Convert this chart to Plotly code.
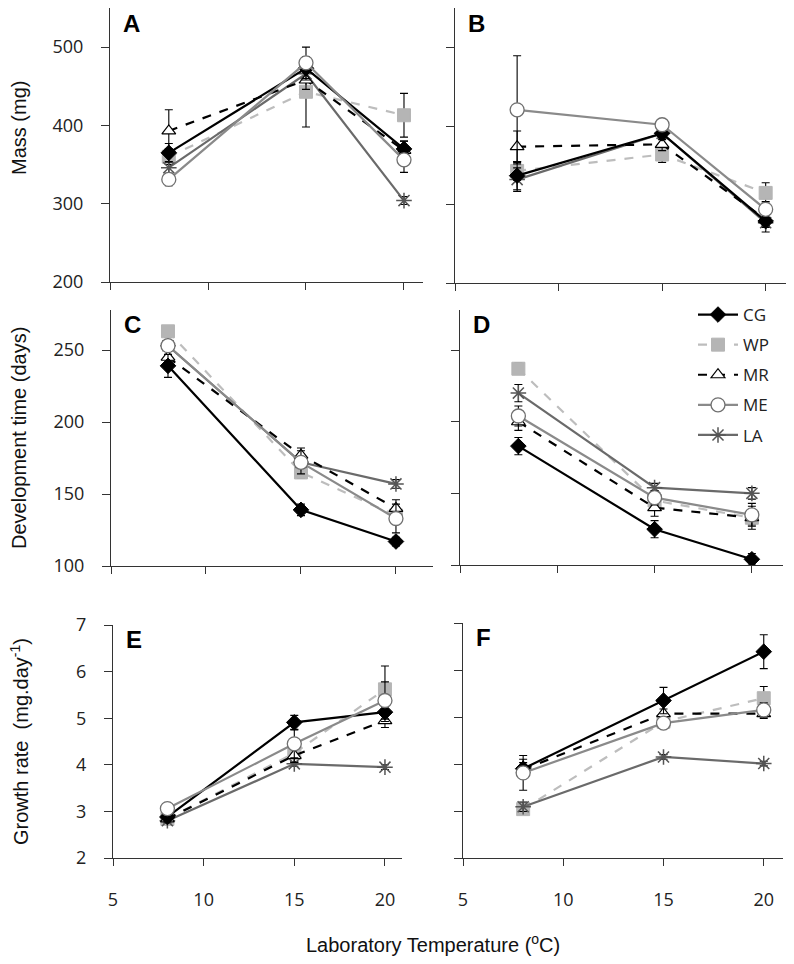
import plotly.graph_objects as go

# ---------------- data ----------------
temps = [8, 15, 20]
series = ["CG", "WP", "MR", "ME", "LA"]

# Panel A: Mass (mg), population set 1
mass_A = {"CG": [365, 473, 370], "WP": [360, 443, 413], "MR": [393, 458, 368],
          "ME": [331, 480, 356], "LA": [346, 466, 304]}
mass_A_err = {"CG": [12, 15, 10], "WP": [10, 45, 28], "MR": [27, 12, 12],
              "ME": [8, 20, 16], "LA": [8, 10, 5]}
# Panel B: Mass (mg), population set 2
mass_B = {"CG": [337, 391, 279], "WP": [343, 364, 315], "MR": [374, 377, 281],
          "ME": [421, 402, 294], "LA": [332, 391, 277]}
mass_B_err = {"CG": [18, 8, 8], "WP": [12, 10, 13], "MR": [20, 8, 8],
              "ME": [69, 6, 10], "LA": [15, 6, 12]}
# Panel C: Development time (days)
dev_C = {"CG": [239, 139, 117], "WP": [263, 165, 135], "MR": [245, 177, 140],
         "ME": [253, 172, 133], "LA": [253, 172, 157]}
dev_C_err = {"CG": [8, 4, 3], "WP": [4, 4, 6], "MR": [5, 5, 6],
             "ME": [4, 8, 10], "LA": [4, 4, 3]}
# Panel D: Development time (days)
dev_D = {"CG": [183, 125, 104], "WP": [237, 145, 133], "MR": [200, 140, 133],
         "ME": [204, 147, 135], "LA": [220, 154, 150]}
dev_D_err = {"CG": [6, 6, 4], "WP": [4, 5, 5], "MR": [6, 6, 8],
             "ME": [7, 5, 8], "LA": [6, 3, 4]}
# Panel E: Growth rate (mg.day-1)
gr_E = {"CG": [2.88, 4.91, 5.13], "WP": [2.84, 4.25, 5.62], "MR": [2.84, 4.2, 4.95],
        "ME": [3.06, 4.45, 5.38], "LA": [2.8, 4.02, 3.95]}
gr_E_err = {"CG": [0.05, 0.15, 0.2], "WP": [0.05, 0.2, 0.5], "MR": [0.05, 0.15, 0.15],
            "ME": [0.05, 0.3, 0.4], "LA": [0.05, 0.05, 0.05]}
# Panel F: Growth rate (mg.day-1)
gr_F = {"CG": [3.9, 5.35, 6.39], "WP": [3.04, 4.9, 5.4], "MR": [3.88, 5.07, 5.07],
        "ME": [3.81, 4.87, 5.15], "LA": [3.09, 4.15, 4.01]}
gr_F_err = {"CG": [0.2, 0.28, 0.36], "WP": [0.1, 0.1, 0.25], "MR": [0.15, 0.1, 0.1],
            "ME": [0.37, 0.1, 0.15], "LA": [0.1, 0.05, 0.05]}

x_ticks = [5, 10, 15, 20]
mass_ticks = [200, 300, 400, 500]
dev_ticks = [100, 150, 200, 250]
gr_ticks = [2, 3, 4, 5, 6, 7]

# ---------------- styles ----------------
styles = {
    "CG": dict(line=dict(color="black", width=2.2, dash="solid"),
               marker=dict(symbol="diamond", size=12, color="black",
                           line=dict(color="black", width=1))),
    "WP": dict(line=dict(color="#bdbdbd", width=2.2, dash="dash"),
               marker=dict(symbol="square", size=13, color="#b5b5b5",
                           line=dict(color="#b5b5b5", width=1))),
    "MR": dict(line=dict(color="black", width=2.2, dash="dash"),
               marker=dict(symbol="triangle-up", size=12, color="white",
                           line=dict(color="black", width=1.2))),
    "ME": dict(line=dict(color="#8a8a8a", width=2.2, dash="solid"),
               marker=dict(symbol="circle", size=14, color="white",
                           line=dict(color="#707070", width=1.3))),
    "LA": dict(line=dict(color="#6a6a6a", width=2.2, dash="solid"),
               marker=dict(symbol="asterisk-open", size=13, color="#555555",
                           line=dict(color="#555555", width=1.5))),
}
draw_order = ["WP", "LA", "MR", "CG", "ME"]
legend_rank = {"CG": 1, "WP": 2, "MR": 3, "ME": 4, "LA": 5}

W, H = 794, 964
OFF = 8  # page offset of the rendered figure

def clamp(v):
    return min(1.0, max(0.0, v))

def px_x(a, b):
    return [clamp((a - OFF) / W), clamp((b - OFF) / W)]

def px_y(top, bottom):
    return [clamp(1 - (bottom - OFF) / H), clamp(1 - (top - OFF) / H)]

def fx(p):
    return (p - OFF) / W

def fy(p):
    return 1 - (p - OFF) / H

panels = [
    # (key, data, err, xdomain px, xrange, ydomain px, yrange, yticks, letter, left)
    ("1", mass_A, mass_A_err, (110, 423), [5, 20.97], (8, 282), [200, 550], mass_ticks, "A", True),
    ("2", mass_B, mass_B_err, (455, 787), [5, 21.03], (8, 283), [200, 551], mass_ticks, "B", False),
    ("3", dev_C, dev_C_err, (111, 433), [5, 21.95], (310, 566), [100, 277.8], dev_ticks, "C", True),
    ("4", dev_D, dev_D_err, (460, 783), [5, 21.6], (310, 565), [100, 278], dev_ticks, "D", False),
    ("5", gr_E, gr_E_err, (113, 402), [5, 20.94], (625, 858), [2, 7], gr_ticks, "E", True),
    ("6", gr_F, gr_F_err, (463, 783), [5, 20.96], (623, 858), [2, 7], gr_ticks, "F", False),
]

fig = go.Figure()
layout = {}
annotations = []
axis_color = "#333333"
tick_font = dict(family="Open Sans, Lato, sans-serif", size=18, color="#222222")

for key, data, err, xd, xr, yd, yr, yt, letter, left in panels:
    xa = "x" if key == "1" else "x" + key
    ya = "y" if key == "1" else "y" + key
    for s in draw_order:
        st = styles[s]
        fig.add_trace(go.Scatter(
            x=temps, y=data[s], xaxis=xa, yaxis=ya, mode="lines+markers",
            name=s, line=st["line"], marker=st["marker"],
            error_y=dict(type="data", array=err[s], visible=True, color="black",
                         thickness=1.1, width=4),
            showlegend=(key == "4"), legendrank=legend_rank[s], legendgroup=s,
        ))
    bottom = key in ("5", "6")
    layout["xaxis" + ("" if key == "1" else key)] = dict(
        domain=px_x(*xd), range=xr, anchor=ya, tickvals=x_ticks,
        showticklabels=bottom, ticks="outside", ticklen=7, tickwidth=1.2,
        tickcolor=axis_color, showline=True, linecolor=axis_color, linewidth=1.2,
        showgrid=False, zeroline=False, tickfont=tick_font, automargin=False,
        ticklabelstandoff=18 if bottom else 0,
    )
    layout["yaxis" + ("" if key == "1" else key)] = dict(
        domain=px_y(*yd), range=yr, anchor=xa, tickvals=yt,
        showticklabels=left, ticks="outside", ticklen=8, tickwidth=1.2,
        tickcolor=axis_color, showline=True, linecolor=axis_color, linewidth=1.2,
        showgrid=False, zeroline=False, tickfont=tick_font, automargin=False,
        ticklabelstandoff=14 if left else 0,
    )
    annotations.append(dict(
        text="<b>%s</b>" % letter, xref="paper", yref="paper",
        x=fx(xd[0] + 11), y=fy(max(yd[0] - 1, OFF)), xanchor="left", yanchor="top",
        showarrow=False, font=dict(family="Liberation Sans, Arial, sans-serif",
                                   size=24, color="black"),
    ))

title_font = dict(family="Liberation Sans Narrow, Liberation Sans, Arial, sans-serif",
                  size=20, color="#111111")
for txt, yc in [("Mass (mg)", 128), ("Development time (days)", 438),
                ("Growth rate  (mg.day<sup>-1</sup>)", 742)]:
    annotations.append(dict(
        text=txt, xref="paper", yref="paper", x=fx(19), y=fy(yc),
        xanchor="center", yanchor="middle", textangle=-90, showarrow=False,
        font=title_font,
    ))
annotations.append(dict(
    text="Laboratory Temperature (<sup>o</sup>C)", xref="paper", yref="paper",
    x=fx(433), y=fy(943), xanchor="center", yanchor="middle", showarrow=False,
    font=dict(family="Liberation Sans, Arial, sans-serif", size=20, color="#111111"),
))

fig.update_layout(
    width=W, height=H, margin=dict(l=0, r=0, t=0, b=0, pad=0, autoexpand=False),
    paper_bgcolor="white", plot_bgcolor="white",
    annotations=annotations,
    legend=dict(x=fx(693), y=fy(297), xanchor="left", yanchor="top",
                bgcolor="rgba(0,0,0,0)", tracegroupgap=5, itemwidth=40,
                font=dict(family="Open Sans, Lato, sans-serif", size=17, color="#222222")),
    **layout,
)

fig.write_html("out.html")
